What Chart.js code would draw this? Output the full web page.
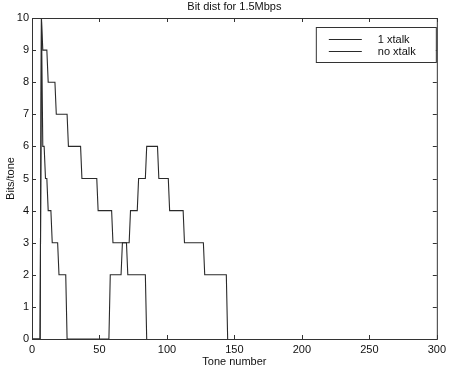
<!DOCTYPE html>
<html>
<head>
<meta charset="utf-8">
<script src="https://cdn.jsdelivr.net/npm/chart.js@4.4.0/dist/chart.umd.min.js"></script>
<style>
  html, body { margin: 0; padding: 0; background: #fff; }
  #wrap { width: 450px; height: 370px; }
</style>
</head>
<body>
<div id="wrap"><canvas id="bitChart" width="450" height="370"></canvas></div>
<script>
// Bits per tone (only the corners of each staircase)
const xtalkTones   = [0, 6, 7, 8, 9, 10, 11, 12, 14, 15, 19, 20, 25, 26, 57, 58, 66, 67, 72, 73, 78, 79, 84, 85, 93, 94, 101, 102, 112, 113, 127, 128, 144, 145];
const xtalkBits    = [0, 0, 10, 6, 6, 5, 5, 4, 4, 3, 3, 2, 2, 0, 0, 2, 2, 3, 3, 4, 4, 5, 5, 6, 6, 5, 5, 4, 4, 3, 3, 2, 2, 0];
const noXtalkTones = [0, 6, 7, 8, 11, 12, 17, 18, 26, 27, 36, 37, 48, 49, 59, 60, 70, 71, 84, 85];
const noXtalkBits  = [0, 0, 10, 9, 9, 8, 8, 7, 7, 6, 6, 5, 5, 4, 4, 3, 3, 2, 2, 0];

const xTicks = [0, 50, 100, 150, 200, 250, 300];
const yTicks = [0, 1, 2, 3, 4, 5, 6, 7, 8, 9, 10];
const seriesLabels = ['1 xtalk', 'no xtalk'];
const chartTitle = 'Bit dist for 1.5Mbps';

const toPoints = (tones, bits) => tones.map((t, i) => ({ x: t, y: bits[i] }));

const LINE = '#2a2a2a';
const FONT = 'Liberation Sans, Arial, Helvetica, sans-serif';

Chart.defaults.font.family = FONT;
Chart.defaults.font.size = 11;
Chart.defaults.color = '#111';

// matlab style box, inward ticks, title and legend
const matlabFrame = {
    id: 'matlabFrame',
    afterDraw(chart) {
        const { ctx, chartArea: a, scales: { x, y } } = chart;
        ctx.save();
        ctx.strokeStyle = '#333';
        ctx.lineWidth = 1;
        ctx.strokeRect(a.left + 0.5, a.top + 0.5, a.right - a.left, a.bottom - a.top);

        ctx.beginPath();
        xTicks.forEach(v => {
            const px = Math.round(x.getPixelForValue(v)) + 0.5;
            ctx.moveTo(px, a.bottom); ctx.lineTo(px, a.bottom - 4);
            ctx.moveTo(px, a.top); ctx.lineTo(px, a.top + 4);
        });
        yTicks.forEach(v => {
            const py = Math.round(y.getPixelForValue(v)) + 0.5;
            ctx.moveTo(a.left, py); ctx.lineTo(a.left + 4, py);
            ctx.moveTo(a.right, py); ctx.lineTo(a.right - 4, py);
        });
        ctx.stroke();

        // title
        ctx.fillStyle = '#111';
        ctx.font = '11px ' + FONT;
        ctx.textAlign = 'center';
        ctx.textBaseline = 'middle';
        ctx.fillText(chartTitle, (a.left + a.right) / 2, a.top - 11);

        // legend box in the top right corner
        const lw = 120, lh = 35;
        const lx = a.right - lw - 1, ly = a.top + 9;
        ctx.fillStyle = '#fff';
        ctx.fillRect(lx, ly, lw, lh);
        ctx.strokeRect(lx + 0.5, ly + 0.5, lw, lh);
        ctx.textAlign = 'left';
        chart.data.datasets.forEach((ds, i) => {
            const rowY = ly + 12.5 + i * 12;
            ctx.strokeStyle = ds.borderColor;
            ctx.beginPath();
            ctx.moveTo(lx + 13, rowY);
            ctx.lineTo(lx + 46, rowY);
            ctx.stroke();
            ctx.fillStyle = '#111';
            ctx.fillText(ds.label, lx + 62, rowY);
        });
        ctx.restore();
    }
};

const ctx = document.getElementById('bitChart').getContext('2d');
const bitChart = new Chart(ctx, {
    type: 'line',
    data: {
        datasets: [{
            label: seriesLabels[0],
            data: toPoints(xtalkTones, xtalkBits),
            borderColor: LINE,
            borderWidth: 1.1,
            pointRadius: 0,
            tension: 0
        }, {
            label: seriesLabels[1],
            data: toPoints(noXtalkTones, noXtalkBits),
            borderColor: LINE,
            borderWidth: 1.1,
            pointRadius: 0,
            tension: 0
        }]
    },
    options: {
        responsive: false,
        animation: false,
        layout: { padding: { top: 18, right: 12, left: 0, bottom: 0 } },
        plugins: {
            legend: { display: false },
            tooltip: { enabled: false }
        },
        scales: {
            x: {
                type: 'linear',
                min: 0,
                max: 300,
                afterFit: s => { s.height = 31; },
                afterBuildTicks: s => { s.ticks = xTicks.map(v => ({ value: v })); },
                grid: { display: false, drawTicks: false },
                border: { display: false },
                ticks: { padding: 4, maxRotation: 0 },
                title: { display: true, text: 'Tone number', padding: { top: 0, bottom: 1 } }
            },
            y: {
                type: 'linear',
                min: 0,
                max: 10,
                afterFit: s => { s.width = 32; },
                afterBuildTicks: s => { s.ticks = yTicks.map(v => ({ value: v })); },
                grid: { display: false, drawTicks: false },
                border: { display: false },
                ticks: { padding: 3 },
                title: { display: true, text: 'Bits/tone', padding: { top: 4, bottom: 0 } }
            }
        }
    },
    plugins: [matlabFrame]
});
</script>
</body>
</html>
